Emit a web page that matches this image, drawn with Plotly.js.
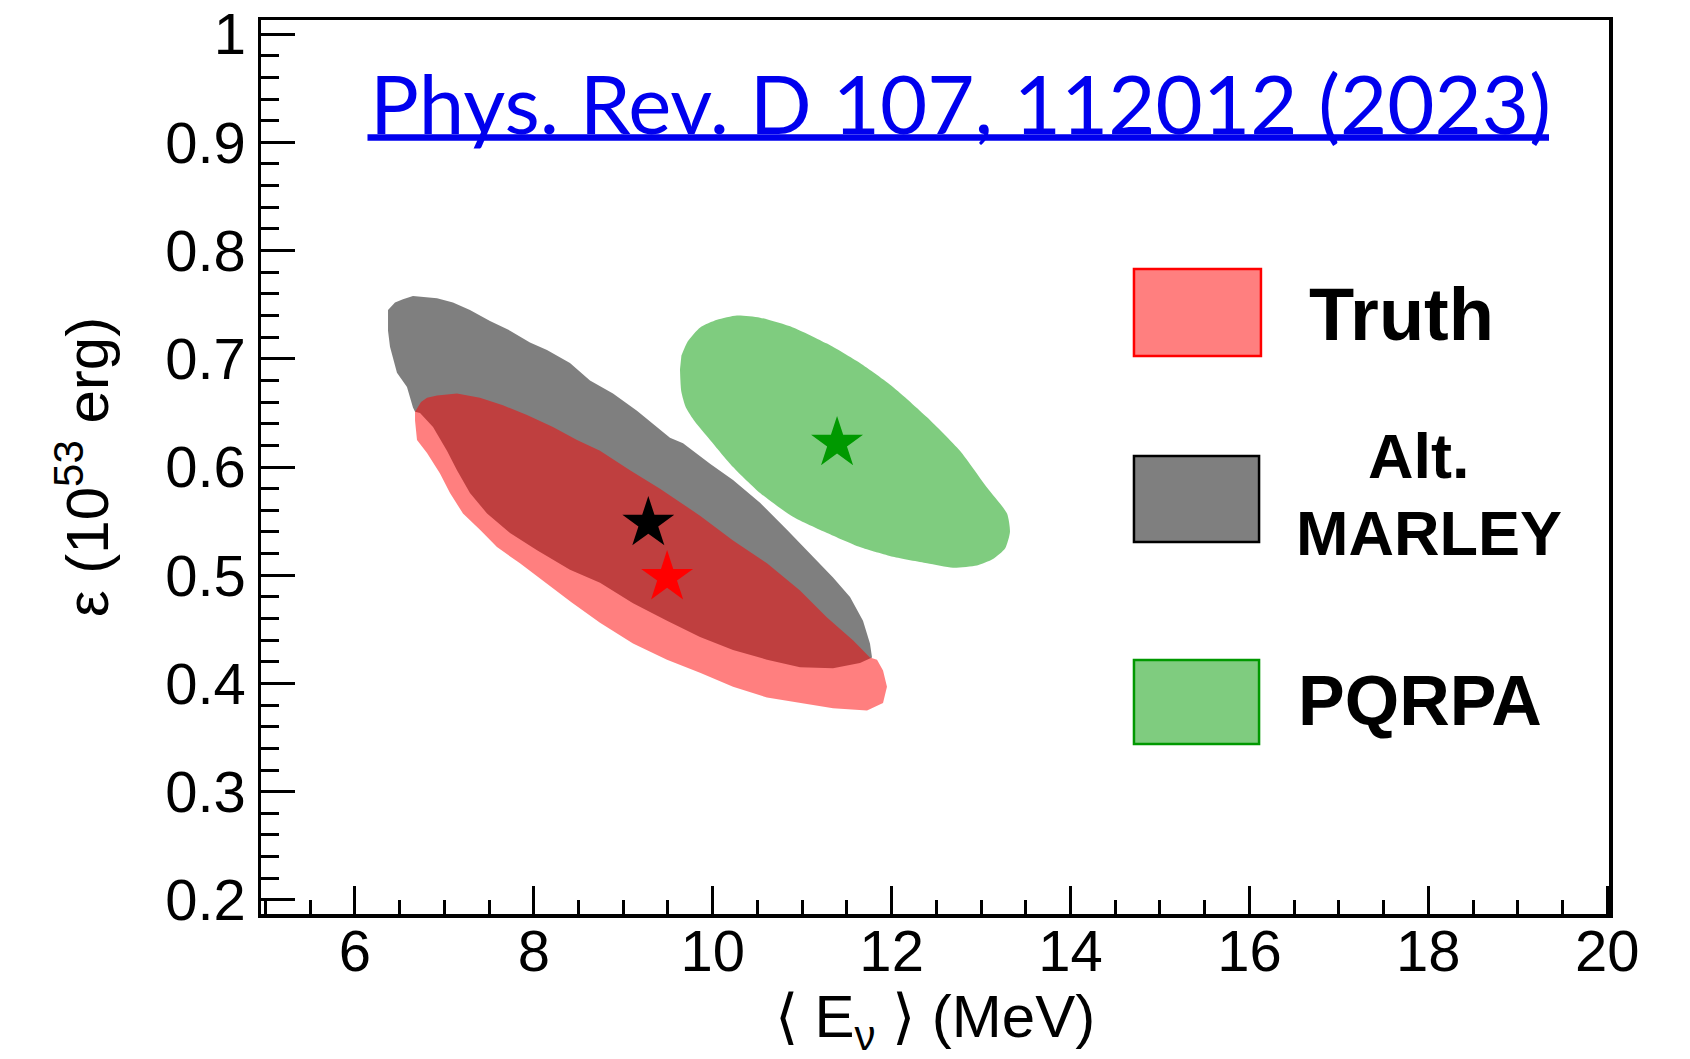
<!DOCTYPE html>
<html>
<head>
<meta charset="utf-8">
<script src="https://cdn.plot.ly/plotly-3.0.1.min.js"></script>
<style>html,body{margin:0;padding:0;background:#fff;}#chart{width:1690px;height:1059px;}</style>
</head>
<body>
<div id="chart"></div>
<script>
// ---- Data ----
const seriesNames = ["Truth", "Alt. MARLEY", "PQRPA"];

// Alt. MARLEY allowed region (outline)
const altX = [6.370, 6.448, 6.537, 6.649, 6.918, 7.096, 7.286, 7.510, 7.734, 7.957, 8.147, 8.404, 8.628, 8.885, 9.153, 9.377, 9.522, 9.668, 9.970, 10.227, 10.529, 10.830, 11.121, 11.345, 11.535, 11.680, 11.758, 11.781, 11.646, 11.345, 10.976, 10.607, 10.227, 9.858, 9.489, 9.109, 8.740, 8.404, 8.036, 7.734, 7.477, 7.286, 7.141, 7.029, 6.873, 6.728, 6.672, 6.649, 6.582, 6.470, 6.392, 6.370];
const altY = [0.745, 0.752, 0.755, 0.758, 0.756, 0.752, 0.745, 0.735, 0.726, 0.715, 0.708, 0.696, 0.680, 0.668, 0.652, 0.637, 0.627, 0.622, 0.603, 0.588, 0.567, 0.542, 0.517, 0.498, 0.480, 0.458, 0.437, 0.424, 0.419, 0.414, 0.415, 0.422, 0.431, 0.443, 0.458, 0.474, 0.493, 0.505, 0.523, 0.539, 0.557, 0.576, 0.597, 0.615, 0.637, 0.650, 0.651, 0.655, 0.674, 0.687, 0.711, 0.726];

// Truth allowed region (outline)
const truthX = [6.672, 6.672, 6.739, 6.806, 6.918, 7.141, 7.398, 7.655, 7.924, 8.214, 8.483, 8.740, 9.075, 9.411, 9.858, 10.227, 10.607, 10.976, 11.278, 11.568, 11.758, 11.837, 11.904, 11.948, 11.904, 11.725, 11.345, 10.976, 10.607, 10.227, 9.858, 9.489, 9.109, 8.740, 8.420, 8.103, 7.845, 7.588, 7.398, 7.208, 7.063, 6.951, 6.806, 6.694];
const truthY = [0.643, 0.651, 0.660, 0.664, 0.666, 0.668, 0.664, 0.657, 0.648, 0.637, 0.625, 0.615, 0.597, 0.580, 0.555, 0.532, 0.511, 0.486, 0.461, 0.440, 0.424, 0.422, 0.412, 0.397, 0.382, 0.375, 0.377, 0.382, 0.387, 0.397, 0.410, 0.422, 0.437, 0.456, 0.475, 0.495, 0.511, 0.526, 0.542, 0.557, 0.576, 0.594, 0.613, 0.625];

// PQRPA allowed region (outline)
const pqrpaX = [9.634, 9.648, 9.700, 9.800, 9.970, 10.227, 10.529, 10.897, 11.278, 11.646, 12.015, 12.396, 12.686, 12.954, 13.133, 13.270, 13.323, 13.290, 13.066, 12.764, 12.396, 12.015, 11.646, 11.278, 10.897, 10.529, 10.271, 10.048, 9.860, 9.720, 9.650];
const pqrpaY = [0.690, 0.670, 0.655, 0.642, 0.625, 0.600, 0.576, 0.554, 0.539, 0.526, 0.517, 0.511, 0.507, 0.509, 0.515, 0.525, 0.540, 0.557, 0.581, 0.615, 0.646, 0.674, 0.696, 0.714, 0.729, 0.738, 0.740, 0.736, 0.729, 0.716, 0.703];

// Best-fit points (Truth, Alt. MARLEY, PQRPA)
const bestFitX = [9.49, 9.28, 11.39];
const bestFitY = [0.498, 0.548, 0.622];

// Axis ticks
const xTickVals = [6, 8, 10, 12, 14, 16, 18, 20];
const xTickText = ["6", "8", "10", "12", "14", "16", "18", "20"];
const yTickVals = [0.2, 0.3, 0.4, 0.5, 0.6, 0.7, 0.8, 0.9, 1.0];
const yTickText = ["0.2", "0.3", "0.4", "0.5", "0.6", "0.7", "0.8", "0.9", "1"];

// ---- Styles ----
const FONT = '"Liberation Sans", Arial, Helvetica, sans-serif';
const RED = 'rgba(255,0,0,0.5)';
const GRAY = 'rgba(0,0,0,0.5)';
const GREEN = 'rgba(0,153,0,0.5)';
const LINK = '#0000EE';

const traces = [
  {x: altX, y: altY, name: seriesNames[1], type: 'scatter', mode: 'lines', fill: 'toself',
   fillcolor: GRAY, line: {width: 0, color: GRAY}, hoverinfo: 'name'},
  {x: truthX, y: truthY, name: seriesNames[0], type: 'scatter', mode: 'lines', fill: 'toself',
   fillcolor: RED, line: {width: 0, color: RED}, hoverinfo: 'name'},
  {x: pqrpaX, y: pqrpaY, name: seriesNames[2], type: 'scatter', mode: 'lines', fill: 'toself',
   fillcolor: GREEN, line: {width: 0, color: GREEN, shape: 'spline', smoothing: 0.6}, hoverinfo: 'name'},
  {x: bestFitX, y: bestFitY, type: 'scatter', mode: 'markers', name: 'best fit',
   text: seriesNames,
   marker: {symbol: 'star', size: 39, color: ['#ff0000', '#000000', '#009900'], line: {width: 0}}}
];

const legendBoxes = [
  {x0: 0.6476, x1: 0.7418, y0: 0.6242, y1: 0.7215, fill: RED, line: '#ff0000'},
  {x0: 0.6476, x1: 0.7404, y0: 0.4161, y1: 0.5123, fill: GRAY, line: '#000000'},
  {x0: 0.6476, x1: 0.7404, y0: 0.1902, y1: 0.2841, fill: GREEN, line: '#009900'}
];

const shapes = legendBoxes.map(b => ({
  type: 'rect', xref: 'paper', yref: 'paper', x0: b.x0, x1: b.x1, y0: b.y0, y1: b.y1,
  fillcolor: b.fill, line: {color: b.line, width: 2.5}
}));
// underline of the reference link
shapes.push({type: 'line', xref: 'paper', yref: 'paper', x0: 0.079, x1: 0.9555, y0: 0.8685, y1: 0.8685,
  line: {color: LINK, width: 6.5}});

const annotations = [
  {text: 'Phys. Rev. D 107, 112012 (2023)', xref: 'paper', yref: 'paper', x: 0.5186, y: 0.908,
   xanchor: 'center', yanchor: 'middle', showarrow: false,
   font: {family: 'Lato, "Noto Sans", sans-serif', size: 81.5, color: LINK}},
  {text: seriesNames[0], xref: 'paper', yref: 'paper', x: 0.8464, y: 0.6706, xanchor: 'center', yanchor: 'middle',
   showarrow: false, font: {family: FONT, size: 74, color: '#000', weight: 'bold'}},
  {text: 'Alt.', xref: 'paper', yref: 'paper', x: 0.8584, y: 0.5128, xanchor: 'center', yanchor: 'middle',
   showarrow: false, font: {family: FONT, size: 63, color: '#000', weight: 'bold'}},
  {text: 'MARLEY', xref: 'paper', yref: 'paper', x: 0.8665, y: 0.4267, xanchor: 'center', yanchor: 'middle',
   showarrow: false, font: {family: FONT, size: 63, color: '#000', weight: 'bold'}},
  {text: seriesNames[2], xref: 'paper', yref: 'paper', x: 0.8598, y: 0.2383, xanchor: 'center', yanchor: 'middle',
   showarrow: false, font: {family: FONT, size: 70, color: '#000', weight: 'bold'}}
];

const axisCommon = {
  showline: true, linewidth: 3.5, linecolor: '#000', mirror: true,
  showgrid: false, zeroline: false,
  ticks: 'inside', tickwidth: 3, tickcolor: '#000',
  tickfont: {family: FONT, size: 58, color: '#000'},
  tickmode: 'array'
};

const layout = {
  width: 1690, height: 1059,
  margin: {l: 261, r: 81, t: 20, b: 145, pad: 0},
  paper_bgcolor: '#ffffff', plot_bgcolor: '#ffffff',
  showlegend: false,
  font: {family: FONT, color: '#000'},
  xaxis: Object.assign({}, axisCommon, {
    range: [4.95, 20.02], tickvals: xTickVals, ticktext: xTickText, ticklen: 28,
    ticklabelstandoff: -16,
    minor: {tickmode: 'linear', tick0: 0, dtick: 0.5, ticks: 'inside', ticklen: 14, tickwidth: 3, tickcolor: '#000', showgrid: false},
    title: {text: '\u27E8 E<sub>\u03BD</sub> \u27E9 (MeV)', font: {family: FONT, size: 60, color: '#000'}, standoff: 8}
  }),
  yaxis: Object.assign({}, axisCommon, {
    range: [0.187, 1.013], tickvals: yTickVals, ticktext: yTickText, ticklen: 34,
    minor: {tickmode: 'linear', tick0: 0, dtick: 0.02, ticks: 'inside', ticklen: 18, tickwidth: 3, tickcolor: '#000', showgrid: false},
    title: {text: '\u03B5 (10<sup>53</sup> erg)', font: {family: FONT, size: 60, color: '#000'}, standoff: 38}
  }),
  shapes: shapes,
  annotations: annotations
};

Plotly.newPlot('chart', traces, layout, {staticPlot: true, displayModeBar: false});
</script>
</body>
</html>
